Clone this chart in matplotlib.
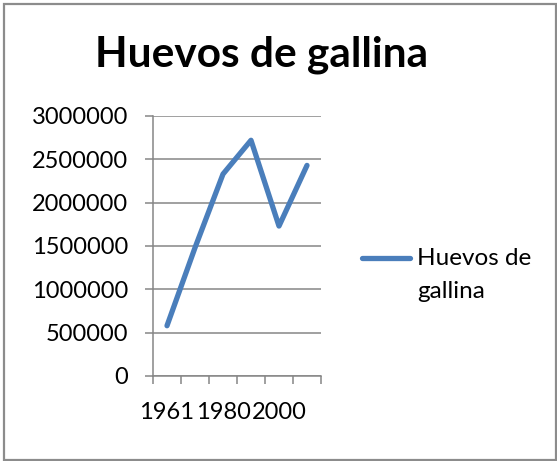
import matplotlib.pyplot as plt
from matplotlib.lines import Line2D
from matplotlib.patches import Rectangle

# data
years = ['1961', '1970', '1980', '1990', '2000', '2010']
huevos = [580000, 1480000, 2330000, 2720000, 1730000, 2430000]
shown_labels = ['1961', '', '1980', '', '2000', '']
y_ticks = [0, 500000, 1000000, 1500000, 2000000, 2500000, 3000000]

W, H = 557, 461
plt.rcParams['font.family'] = ['Lato', 'DejaVu Sans']

fig = plt.figure(figsize=(W / 100, H / 100), dpi=100)
fig.patch.set_facecolor('white')

ax = fig.add_axes([153 / W, 1 - 376 / H, 168 / W, 260 / H])
grid_c = '#868686'

x = list(range(len(years)))
ax.plot(x, huevos, color='#4A7EBB', lw=3.8, solid_capstyle='round',
        solid_joinstyle='round', zorder=3)

ax.set_xlim(-0.5, len(years) - 0.5)
ax.set_ylim(0, 3000000)
ax.set_yticks(y_ticks)
ax.set_yticklabels([str(v) for v in y_ticks])
ax.yaxis.grid(True, color=grid_c, lw=1.1)
ax.set_axisbelow(True)

# category boundaries as major ticks, labels on minor ticks at centres
ax.set_xticks([i - 0.5 for i in range(len(years) + 1)])
ax.set_xticklabels([])
ax.set_xticks(x, minor=True)
ax.set_xticklabels(shown_labels, minor=True)
ax.tick_params(axis='x', which='major', length=6, width=1.1, color=grid_c, direction='out')
ax.tick_params(axis='x', which='minor', length=0, pad=19, labelsize=17)
ax.tick_params(axis='y', length=6, width=1.1, color=grid_c, direction='out',
               pad=12, labelsize=17)

for s in ['top', 'right']:
    ax.spines[s].set_visible(False)
for s in ['left', 'bottom']:
    ax.spines[s].set_color(grid_c)
    ax.spines[s].set_linewidth(1.1)

fig.text(262 / W, 1 - 55 / H, 'Huevos de gallina', ha='center', va='center',
         fontsize=30.5, fontweight='bold')

# legend drawn by hand so the sample sits on the first line
fig.add_artist(Line2D([362 / W, 410 / W], [1 - 258 / H, 1 - 258 / H],
                      color='#4A7EBB', lw=3.8, solid_capstyle='round'))
fig.text(417 / W, 1 - 258 / H, 'Huevos de', ha='left', va='center', fontsize=17.5)
fig.text(417 / W, 1 - 292 / H, 'gallina', ha='left', va='center', fontsize=17.5)

fig.add_artist(Rectangle((4 / W, 1.5 / H), 552 / W, 455.5 / H, fill=False,
                         edgecolor='#8c8c8c', lw=1.6, transform=fig.transFigure))

fig.savefig('out.png', dpi=100)
